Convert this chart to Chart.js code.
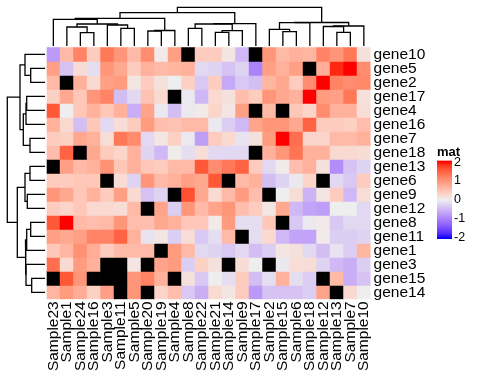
<!DOCTYPE html>
<html>
<head>
<meta charset="utf-8">
<script src="https://cdn.jsdelivr.net/npm/chart.js@4.4.1/dist/chart.umd.min.js"></script>
<style>
body { margin: 0; background: #fff; }
#wrap { position: relative; width: 480px; height: 384px; overflow: hidden; }
canvas { position: absolute; }
</style>
</head>
<body>
<div id="wrap">
  <canvas id="colDendro" width="480" height="46" style="left:0;top:0"></canvas>
  <canvas id="rowDendro" width="45" height="384" style="left:0;top:0"></canvas>
  <canvas id="heat" width="440" height="384" style="left:0;top:0"></canvas>
  <canvas id="legend" width="43" height="110" style="left:437px;top:140px"></canvas>
</div>
<script>
const samples = ['Sample23', 'Sample1', 'Sample24', 'Sample16', 'Sample3', 'Sample11', 'Sample5', 'Sample20',
  'Sample19', 'Sample4', 'Sample8', 'Sample22', 'Sample21', 'Sample14', 'Sample9', 'Sample17',
  'Sample2', 'Sample15', 'Sample6', 'Sample18', 'Sample12', 'Sample13', 'Sample7', 'Sample10'];
const genes = ['gene10', 'gene5', 'gene2', 'gene17', 'gene4', 'gene16', 'gene7', 'gene18', 'gene13',
  'gene6', 'gene9', 'gene12', 'gene8', 'gene11', 'gene1', 'gene3', 'gene15', 'gene14'];

// one row per gene, in the order above; null = NA (drawn black)
const mat = [
  [-0.8, 0.6, 1.2, 0.4, 1.3, 1.0, 0.6, 1.1, 0.05, 0.9, null, 0.4, 0.4, 0.1, -0.5, null, 1.0, 0.6, 0.7, 0.65, 1.2, 1.0, 1.3, 0.15],
  [0.9, -0.4, 0.2, -0.15, 1.0, 0.8, 0.4, 0.7, 0.6, 0.65, 0.7, -0.2, -0.25, -0.4, -0.25, -1.0, 0.9, 0.7, 0.9, null, 0.75, 1.9, 2.0, 1.1],
  [0.6, null, 0.7, 0.25, 0.9, 0.95, 0.1, 0.4, 0.15, 0.0, 0.35, -0.35, 0.4, -0.65, -0.35, -0.45, 0.65, 0.8, 0.4, 1.1, 2.0, 1.2, 1.1, 1.15],
  [0.35, 0.8, 0.45, 1.0, 1.2, -0.45, -0.2, 0.5, 0.25, null, -0.05, -0.5, 0.25, 0.15, 0.55, 0.4, 1.0, 0.8, 0.7, 2.0, 0.95, 0.9, 1.3, 0.15],
  [1.6, 0.0, 0.45, 0.7, 0.45, 0.7, -0.6, 0.85, -0.05, -0.45, -0.05, 0.05, 0.3, 0.1, 0.9, null, 0.6, null, 0.45, 0.3, 1.1, 0.7, 0.7, 0.2],
  [0.7, 0.25, -0.45, 0.45, -0.2, 0.2, 0.4, 0.95, 0.55, 0.5, 0.6, 0.6, -0.05, -0.3, -0.5, 0.85, 1.0, 1.0, 0.8, 1.5, 0.4, 0.4, 0.35, 0.55],
  [0.4, 0.35, 0.8, 0.7, 0.2, 1.3, 1.1, -0.2, 0.1, 0.35, -0.05, -0.75, 0.4, 0.25, -0.1, 0.15, 0.95, 2.0, 1.4, 0.3, 0.3, 0.6, 0.6, 0.7],
  [0.55, 1.5, null, 0.8, 0.4, 0.3, 0.7, -0.25, -0.5, 0.02, -0.15, 0.2, -0.2, -0.2, -0.2, null, 0.7, 1.0, 1.35, 0.7, 0.7, 0.25, 0.25, 0.2],
  [null, 0.9, 0.6, 0.7, 1.05, 0.45, 0.7, 0.45, 0.4, 0.6, 0.6, 1.6, 1.1, 1.3, 1.5, 0.4, -0.2, 0.05, 0.55, 0.7, 0.15, -0.9, -0.4, -0.25],
  [0.4, 0.4, 0.45, 0.45, null, 0.2, -0.25, 1.0, 0.6, 0.7, 0.9, 0.8, 1.6, null, 0.6, 0.7, -0.45, -0.25, -0.05, 0.3, null, -0.2, -0.35, 0.4],
  [1.0, 0.8, 0.45, 0.7, 0.4, 0.9, 0.25, -0.4, -0.25, null, 1.65, 0.8, 0.25, 0.6, 0.95, 0.55, null, 0.0, 0.2, -0.55, 0.1, 0.4, -0.5, 0.2],
  [0.4, 0.3, 0.45, 0.25, 0.25, 0.2, 0.6, null, 0.85, -0.3, 1.0, 0.6, 0.85, 1.0, 0.55, 0.4, 0.1, 0.8, -0.5, -0.7, -0.75, 0.0, 0.0, -0.2],
  [1.6, 2.0, 0.6, 0.55, 0.6, 1.0, 0.55, 0.55, 0.8, 0.7, 0.45, 0.45, 0.05, 0.95, -0.15, -0.15, 0.45, null, -0.35, -0.05, 0.05, -0.35, -0.2, -0.2],
  [0.9, 0.8, 0.9, 1.2, 1.2, 1.5, 0.7, -0.1, 0.1, -0.3, 0.2, -0.35, -0.15, 0.6, null, -0.15, 0.25, -0.5, -0.7, -0.7, 0.05, -0.3, -0.3, -0.25],
  [0.45, 0.65, 1.05, 0.75, 0.4, 0.6, 0.6, 0.6, null, 0.95, 0.6, -0.2, -0.25, -0.35, -0.2, -0.45, -0.3, 0.1, 0.15, -0.2, -0.45, -0.1, -0.3, 0.65],
  [1.4, 0.25, 0.95, 0.7, null, null, 0.1, null, 0.85, 0.95, -0.3, 0.35, 0.15, null, 0.2, 0.0, null, -0.05, 0.2, 0.2, -0.25, -0.5, -0.6, -0.3],
  [null, 1.6, 1.0, null, null, null, 1.0, 1.2, 0.7, null, 0.15, -0.35, 0.0, -0.15, 0.4, -0.45, -0.15, 0.7, -0.15, -0.3, null, 0.6, -0.6, -0.4],
  [0.65, 0.95, 0.75, 0.35, 0.9, null, 1.0, null, 0.3, 0.55, -0.35, -0.6, 0.25, 0.1, 0.4, -0.8, -0.4, -0.4, -0.4, -0.3, 0.85, null, 0.25, 0.0]
];

// hclust style merges: negative = leaf (1-based), positive = earlier merge; last = height
const colMerge = [
  [-6, -7, 17.7], [-5, 1, 21], [-3, -4, 13.3], [-2, 3, 19], [4, 2, 22], [-1, 5, 26.7],
  [-8, -9, 15], [7, -10, 15.5], [6, 8, 27.7],
  [-11, -12, 17.7], [-13, -14, 13.7], [11, -15, 15.3], [10, 12, 22], [13, -16, 22.3], [9, 14, 33.3],
  [-18, -19, 14.3], [-17, 16, 16.7], [17, -20, 23.3], [-22, -23, 13.7], [-21, 19, 19.5], [20, -24, 20],
  [18, 21, 23.5], [15, 22, 38.7]
];
const rowMerge = [
  [-2, -3, 14.3], [-1, 1, 20], [-4, -5, 18.3], [3, -6, 19], [-7, -8, 15], [4, 5, 21.7], [2, 6, 25],
  [-9, -10, 15], [-11, -12, 17.7], [8, 9, 20], [-13, -14, 14.3], [11, -15, 18.3],
  [-17, -18, 13.3], [-16, 13, 19], [12, 14, 19.5], [10, 15, 27.7], [7, 16, 37.7]
];

const legendTicks = [2, 1, 0, -1, -2];
const breaks = [-2, 0, 2];
const breakColors = ['#0000FF', '#EEEEEE', '#FF0000'];
const naColor = '#000000';
const FONT = 'Liberation Sans, Arial, sans-serif';

// colour ramp interpolated in LAB, like colorRamp2
const hexToRgb = h => [1, 3, 5].map(i => parseInt(h.slice(i, i + 2), 16));
const lin = c => { c /= 255; return c <= 0.04045 ? c / 12.92 : Math.pow((c + 0.055) / 1.055, 2.4); };
const unlin = c => { c = c <= 0.0031308 ? 12.92 * c : 1.055 * Math.pow(c, 1 / 2.4) - 0.055; return Math.round(Math.min(1, Math.max(0, c)) * 255); };
const fLab = t => t > 0.008856 ? Math.cbrt(t) : 7.787 * t + 16 / 116;
const fInv = t => t > 0.206893 ? t * t * t : (t - 16 / 116) / 7.787;
const toLab = hex => {
  const [r, g, b] = hexToRgb(hex).map(lin);
  const X = (0.4124 * r + 0.3576 * g + 0.1805 * b) / 0.95047;
  const Y = 0.2126 * r + 0.7152 * g + 0.0722 * b;
  const Z = (0.0193 * r + 0.1192 * g + 0.9505 * b) / 1.08883;
  return [116 * fLab(Y) - 16, 500 * (fLab(X) - fLab(Y)), 200 * (fLab(Y) - fLab(Z))];
};
const labToRgb = ([L, a, bb]) => {
  const fy = (L + 16) / 116, fx = fy + a / 500, fz = fy - bb / 200;
  const X = fInv(fx) * 0.95047, Y = fInv(fy), Z = fInv(fz) * 1.08883;
  const r = 3.2406 * X - 1.5372 * Y - 0.4986 * Z;
  const g = -0.9689 * X + 1.8758 * Y + 0.0415 * Z;
  const b = 0.0557 * X - 0.2040 * Y + 1.0570 * Z;
  return `rgb(${unlin(r)},${unlin(g)},${unlin(b)})`;
};
const labStops = breakColors.map(toLab);

const cellColor = v => {
  if (v === null) return naColor;
  v = Math.max(breaks[0], Math.min(breaks[2], v));
  const k = v <= breaks[1] ? 0 : 1;
  const t = (v - breaks[k]) / (breaks[k + 1] - breaks[k]);
  const A = labStops[k], B = labStops[k + 1];
  return labToRgb(A.map((x, i) => x + (B[i] - x) * t));
};

// turn merges into U shaped segments; leaf i sits at i + 0.5
const dendroSegments = merges => {
  const pos = [], hgt = [];
  const node = k => k < 0 ? { p: -k - 0.5, h: 0 } : { p: pos[k - 1], h: hgt[k - 1] };
  return merges.map(([a, b, h], i) => {
    const A = node(a), B = node(b);
    pos[i] = (A.p + B.p) / 2;
    hgt[i] = h;
    return [[A.p, A.h], [A.p, h], [B.p, h], [B.p, B.h]];
  });
};

const noInteract = { legend: { display: false }, tooltip: { enabled: false } };

// heatmap body
new Chart(document.getElementById('heat'), {
  type: 'bar',
  data: {
    labels: samples,
    datasets: genes.map((g, r) => ({
      label: g,
      data: samples.map(() => [r, r + 1]),
      backgroundColor: mat[r].map(cellColor),
      borderWidth: 0,
      barPercentage: 1,
      categoryPercentage: 1
    }))
  },
  options: {
    responsive: false,
    animation: false,
    events: [],
    plugins: noInteract,
    layout: { padding: { left: 46.6, top: 47.3, right: 0, bottom: 0 } },
    scales: {
      x: {
        stacked: true,
        grid: { display: false, drawTicks: false },
        border: { display: false },
        ticks: { autoSkip: false, minRotation: 90, maxRotation: 90, padding: 2, color: '#000', font: { family: FONT, size: 15.5 } },
        afterFit: s => { s.height = 384 - 299.3; }
      },
      y: {
        position: 'right',
        reverse: true,
        min: 0,
        max: genes.length,
        grid: { display: false, drawTicks: false },
        border: { display: false },
        afterBuildTicks: s => { s.ticks = genes.map((g, i) => ({ value: i + 0.5 })); },
        ticks: { autoSkip: false, callback: (v, i) => genes[i], padding: 3, color: '#000', font: { family: FONT, size: 15.5 } },
        afterFit: s => { s.width = 440 - 370.6; }
      }
    }
  }
});

// column dendrogram
new Chart(document.getElementById('colDendro'), {
  type: 'scatter',
  data: {
    datasets: dendroSegments(colMerge).map(seg => ({
      data: seg.map(([p, h]) => ({ x: p, y: h })),
      showLine: true, borderColor: '#000', borderWidth: 1.3, pointRadius: 0
    }))
  },
  options: {
    responsive: false, animation: false, events: [], plugins: noInteract,
    layout: { padding: { left: 46.6, right: 480 - 370.6, top: 0, bottom: 0 } },
    scales: {
      x: { display: false, min: 0, max: samples.length },
      y: { display: false, min: 0, max: 46 }
    }
  }
});

// row dendrogram
new Chart(document.getElementById('rowDendro'), {
  type: 'scatter',
  data: {
    datasets: dendroSegments(rowMerge).map(seg => ({
      data: seg.map(([p, h]) => ({ x: h, y: p })),
      showLine: true, borderColor: '#000', borderWidth: 1.3, pointRadius: 0
    }))
  },
  options: {
    responsive: false, animation: false, events: [], plugins: noInteract,
    layout: { padding: { left: 0, right: 0, top: 47.3, bottom: 384 - 299.3 } },
    scales: {
      x: { display: false, min: 0, max: 45, reverse: true },
      y: { display: false, min: 0, max: genes.length, reverse: true }
    }
  }
});

// colour legend
const barGradient = chart => {
  const { chartArea, scales } = chart;
  if (!chartArea) return null;
  const top = scales.y.getPixelForValue(scales.y.max), bottom = scales.y.getPixelForValue(scales.y.min);
  const g = chart.ctx.createLinearGradient(0, top, 0, bottom);
  for (let i = 0; i <= 40; i++) {
    const v = scales.y.max - (scales.y.max - scales.y.min) * i / 40;
    g.addColorStop(i / 40, cellColor(v));
  }
  return g;
};

new Chart(document.getElementById('legend'), {
  type: 'bar',
  data: {
    labels: ['mat'],
    datasets: [{
      data: [[-2.08, 2.08]],
      backgroundColor: ctx => barGradient(ctx.chart),
      borderWidth: 0, barPercentage: 1, categoryPercentage: 1
    }]
  },
  options: {
    responsive: false, animation: false, events: [],
    plugins: {
      ...noInteract,
      title: { display: true, text: 'mat', align: 'start', color: '#000', padding: { top: 5, bottom: 0 }, font: { family: FONT, size: 13, weight: 'bold' } }
    },
    layout: { padding: { left: 0, right: 0, top: 0, bottom: 11 } },
    scales: {
      x: { display: false },
      y: {
        position: 'right',
        min: -2.08,
        max: 2.08,
        z: 1,
        grid: { color: '#fff', lineWidth: 1, drawTicks: false },
        border: { display: false, dash: [3.5, 8] },
        afterBuildTicks: s => { s.ticks = legendTicks.map(v => ({ value: v })); },
        afterFit: s => { s.width = 28; },
        ticks: { autoSkip: false, padding: 2, color: '#000', font: { family: FONT, size: 12.5 } }
      }
    }
  }
});
</script>
</body>
</html>
